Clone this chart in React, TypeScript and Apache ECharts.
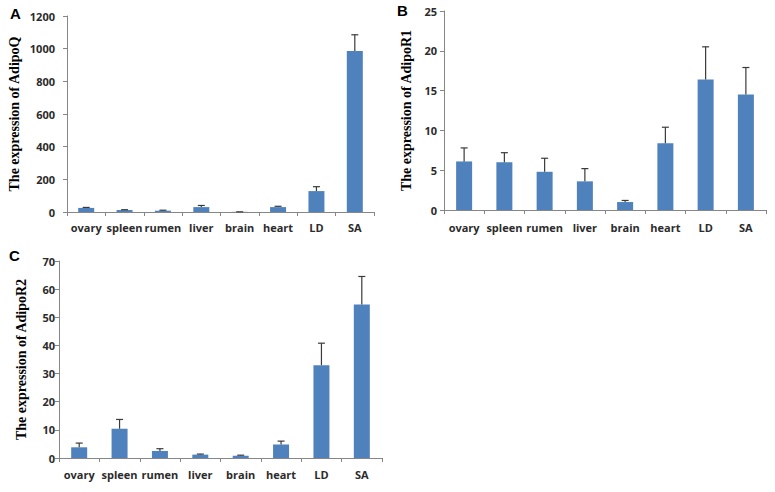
import React, { useEffect, useRef } from "react";
import * as echarts from "echarts";

const categories = ["ovary", "spleen", "rumen", "liver", "brain", "heart", "LD", "SA"];

const adipoQ = [25, 12, 8, 30, 1, 30, 128, 985];
const adipoQErr = [28, 14, 11, 40, 1, 35, 155, 1085];

const adipoR1 = [6.1, 6.0, 4.8, 3.6, 1.0, 8.4, 16.4, 14.5];
const adipoR1Err = [7.8, 7.2, 6.5, 5.2, 1.2, 10.4, 20.5, 17.9];

const adipoR2 = [3.8, 10.4, 2.5, 1.2, 0.8, 4.8, 33.0, 54.5];
const adipoR2Err = [5.3, 13.7, 3.3, 1.4, 1.0, 6.0, 40.8, 64.5];

const panels = [
  { letter: "A", title: "The expression of AdipoQ", values: adipoQ, err: adipoQErr, max: 1200, interval: 200 },
  { letter: "B", title: "The expression of AdipoR1", values: adipoR1, err: adipoR1Err, max: 25, interval: 5 },
  { letter: "C", title: "The expression of AdipoR2", values: adipoR2, err: adipoR2Err, max: 70, interval: 10 },
];

const grids = [
  { left: 67, top: 16, width: 307, height: 196 },
  { left: 444, top: 11, width: 322, height: 199 },
  { left: 59, top: 261, width: 323, height: 197 },
];
const nameGaps = [46, 31, 31];
const yLabelMargins = [12, 7, 4];
const xLabelMargins = [10, 12, 11];
const letterPos = [
  { x: 10, y: 6 },
  { x: 397, y: 3 },
  { x: 9, y: 248 },
];

const AXIS = "#868686";
const BAR = "#4F81BD";

export default function App() {
  const ref = useRef<HTMLDivElement>(null);
  useEffect(() => {
    if (!ref.current) return;
    const chart = echarts.init(ref.current, null, { renderer: "svg" });
    const labelStyle = {
      fontFamily: "Open Sans",
      fontWeight: "bold" as const,
      fontSize: 11,
      color: "#2b2b2b",
    };
    const option: any = {
      animation: false,
      backgroundColor: "#ffffff",
      grid: grids.map((g) => ({ ...g, containLabel: false })),
      xAxis: panels.map((p, i) => ({
        type: "category",
        gridIndex: i,
        data: categories,
        boundaryGap: true,
        axisLine: { lineStyle: { color: AXIS, width: 1 } },
        axisTick: { show: true, alignWithLabel: false, length: 4, inside: false, lineStyle: { color: AXIS } },
        axisLabel: { ...labelStyle, margin: xLabelMargins[i], interval: 0 },
      })),
      yAxis: panels.map((p, i) => ({
        type: "value",
        gridIndex: i,
        min: 0,
        max: p.max,
        interval: p.interval,
        name: p.title,
        nameLocation: "middle",
        nameGap: nameGaps[i],
        nameRotate: 90,
        nameTextStyle: {
          fontFamily: "Liberation Serif",
          fontWeight: "bold",
          fontSize: 14,
          color: "#000",
        },
        axisLine: { show: true, lineStyle: { color: AXIS, width: 1 } },
        axisTick: { show: true, length: 4, lineStyle: { color: AXIS } },
        splitLine: { show: false },
        axisLabel: { ...labelStyle, margin: yLabelMargins[i], formatter: (v: number) => String(v) },
      })),
      series: [
        ...panels.map((p, i) => ({
          type: "bar",
          xAxisIndex: i,
          yAxisIndex: i,
          data: p.values,
          barWidth: 16,
          itemStyle: { color: BAR },
        })),
        ...panels.map((p, i) => ({
          type: "custom",
          xAxisIndex: i,
          yAxisIndex: i,
          data: p.values.map((v, k) => [k, v, p.err[k]]),
          encode: { x: 0, y: [1, 2] },
          z: 5,
          renderItem: (params: any, api: any) => {
            const idx = api.value(0);
            const v = api.value(1);
            const hi = api.value(2);
            const p0 = api.coord([idx, v]);
            const p1 = api.coord([idx, hi]);
            const style = { stroke: "#3a3a3a", lineWidth: 1.2 };
            return {
              type: "group",
              children: [
                { type: "line", shape: { x1: p0[0], y1: p0[1], x2: p1[0], y2: p1[1] }, style },
                { type: "line", shape: { x1: p1[0] - 3.5, y1: p1[1], x2: p1[0] + 3.5, y2: p1[1] }, style },
              ],
            };
          },
        })),
      ],
      graphic: panels.map((p, i) => ({
        type: "text",
        left: letterPos[i].x,
        top: letterPos[i].y,
        style: {
          text: p.letter,
          fontFamily: "Liberation Sans",
          fontWeight: "bold",
          fontSize: 15,
          fill: "#000",
        },
      })),
    };
    chart.setOption(option);
    return () => chart.dispose();
  }, []);
  return (
    <div
      ref={ref}
      style={{ position: "fixed", left: 0, top: 0, width: 775, height: 492, background: "#fff" }}
    />
  );
}
